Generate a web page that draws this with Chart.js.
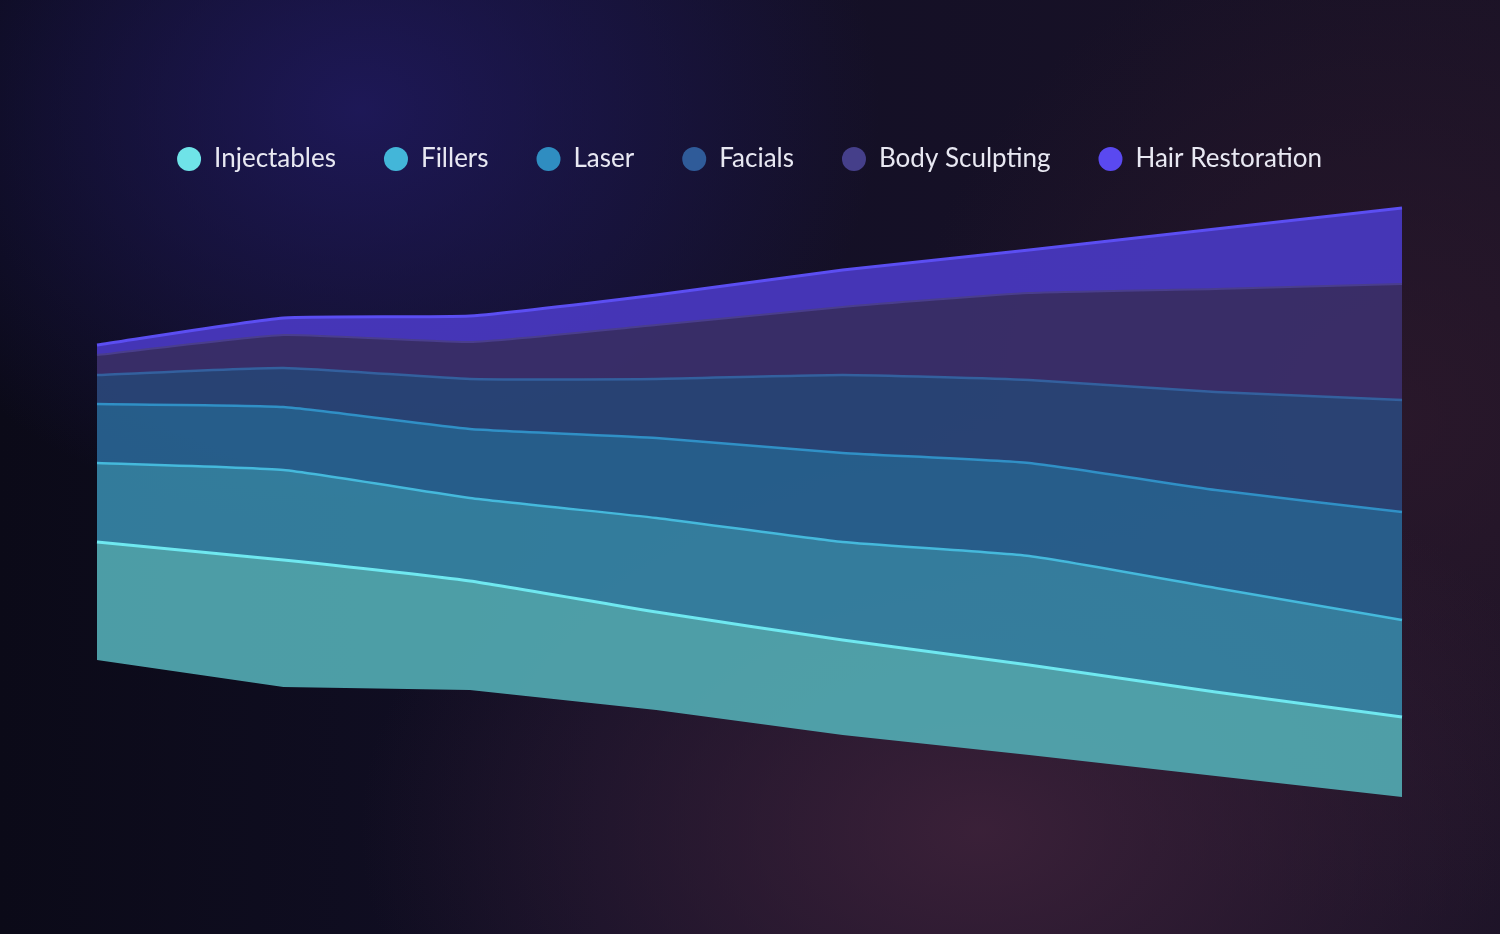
<!DOCTYPE html>
<html>
<head>
<meta charset="utf-8">
<script src="https://cdn.jsdelivr.net/npm/chart.js@4.4.1/dist/chart.umd.min.js"></script>
<style>
  html, body {
    margin: 0;
    padding: 0;
    width: 1500px;
    height: 934px;
    overflow: hidden;
  }
  body {
    background:
      radial-gradient(ellipse 520px 420px at 360px 110px, rgba(32, 26, 96, 0.85), rgba(32, 26, 96, 0) 100%),
      radial-gradient(ellipse 620px 420px at 980px 830px, rgba(62, 34, 58, 0.9), rgba(62, 34, 58, 0) 100%),
      radial-gradient(ellipse 500px 500px at 1400px 420px, rgba(48, 26, 44, 0.7), rgba(48, 26, 44, 0) 100%),
      linear-gradient(90deg, #0b0a18 0%, #120f26 40%, #1a1226 100%);
  }
  #wrap {
    position: absolute;
    left: 0;
    top: 0;
    width: 1500px;
    height: 934px;
  }
</style>
</head>
<body>
<div id="wrap"><canvas id="chartFluxo"></canvas></div>
<script>
// categorias (8 períodos, eixo não exibido)
const periodos = ["P1", "P2", "P3", "P4", "P5", "P6", "P7", "P8"];

// deslocamento da base do fluxo (streamgraph)
const base = [140, 113, 110, 90, 65, 45, 24, 3];

const injectables = [118, 127, 109, 98, 95, 90, 84, 80];
const fillers = [79, 90, 83, 94, 98, 109, 104, 97];
const laser = [59, 63, 69, 80, 89, 93, 98, 108];
const facials = [29, 39, 50, 59, 78, 83, 98, 112];
const bodySculpting = [20, 33, 37, 54, 68, 87, 103, 116];
const hairRestoration = [10, 17, 26, 30, 37, 43, 60, 76];

const series = [
  { label: "Injectables", data: injectables, fill: "rgba(82, 170, 178, 0.92)", line: "#6fe8f0", dot: "#6fe3e8", width: 3 },
  { label: "Fillers", data: fillers, fill: "rgba(54, 134, 166, 0.92)", line: "#45b9dc", dot: "#43b6d9", width: 2.5 },
  { label: "Laser", data: laser, fill: "rgba(40, 100, 146, 0.92)", line: "#3090c6", dot: "#2f8dc1", width: 2.5 },
  { label: "Facials", data: facials, fill: "rgba(42, 70, 122, 0.92)", line: "#33609e", dot: "#2f5b99", width: 2.5 },
  { label: "Body Sculpting", data: bodySculpting, fill: "rgba(60, 48, 108, 0.92)", line: "#4a3e8c", dot: "#453f8a", width: 2 },
  { label: "Hair Restoration", data: hairRestoration, fill: "rgba(72, 56, 190, 0.95)", line: "#5b4ef2", dot: "#5a49f0", width: 3 },
];

const datasets = [
  {
    label: "",
    data: base,
    borderWidth: 0,
    pointRadius: 0,
    fill: false,
    tension: 0,
    borderColor: "rgba(0,0,0,0)",
  },
].concat(
  series.map((s) => ({
    label: s.label,
    data: s.data,
    backgroundColor: s.fill,
    borderColor: s.line,
    borderWidth: s.width,
    pointRadius: 0,
    fill: "-1",
    tension: 0.15,
  }))
);

const ctx = document.getElementById("chartFluxo");

new Chart(ctx.getContext("2d"), {
  type: "line",
  data: {
    labels: periodos,
    datasets: datasets,
  },
  options: {
    responsive: true,
    maintainAspectRatio: false,
    animation: false,
    layout: {
      padding: { top: 98, left: 97, right: 98, bottom: 134 },
    },
    plugins: {
      legend: {
        position: "top",
        labels: {
          usePointStyle: true,
          pointStyle: "circle",
          boxHeight: 17,
          pointStyleWidth: 24,
          padding: 48,
          color: "#e8e8f2",
          font: { family: "Lato", size: 26 },
          filter: (item) => item.text !== "",
          generateLabels: (chart) =>
            Chart.defaults.plugins.legend.labels
              .generateLabels(chart)
              .map((item) => {
                const s = series[item.datasetIndex - 1];
                if (s) {
                  item.fillStyle = s.dot;
                  item.strokeStyle = s.dot;
                  item.lineWidth = 0;
                }
                return item;
              }),
        },
      },
      tooltip: { enabled: false },
    },
    scales: {
      x: {
        display: false,
        offset: false,
      },
      y: {
        display: false,
        stacked: true,
        min: 0,
        max: 618,
      },
    },
  },
});
</script>
</body>
</html>
